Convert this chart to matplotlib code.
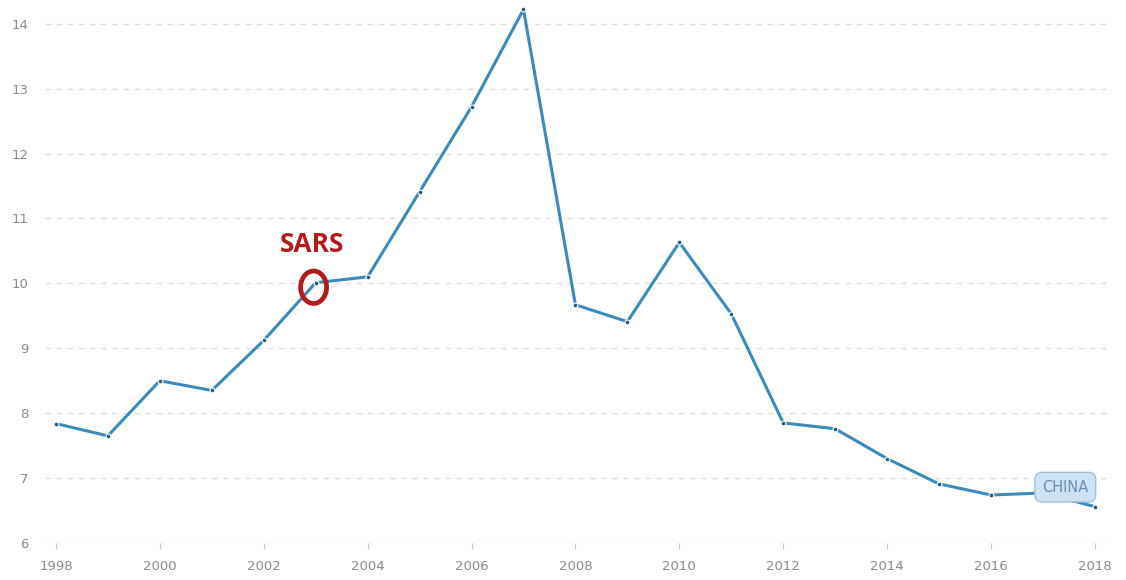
import matplotlib
matplotlib.use("Agg")
import matplotlib.pyplot as plt
from matplotlib.patches import Ellipse

years = list(range(1998, 2019))
values = [7.84, 7.65, 8.50, 8.35, 9.12, 10.01, 10.10, 11.41, 12.72, 14.22,
          9.67, 9.41, 10.63, 9.53, 7.85, 7.76, 7.30, 6.91, 6.74, 6.77, 6.56]
y_ticks = [6, 7, 8, 9, 10, 11, 12, 13, 14]
x_ticks = list(range(1998, 2019, 2))
series_label = "CHINA"
event_label = "SARS"
event_year = 2003

fig = plt.figure(figsize=(11.26, 5.8), dpi=100)
ax = fig.add_axes([45/1126, 37/580, 1065/1126, 542/580])
ax.set_xlim(1997.79, 2018.29)
ax.set_ylim(6, 14.35)

for s in ax.spines.values():
    s.set_visible(False)
ax.set_yticks(y_ticks)
ax.set_xticks(x_ticks)
ax.grid(axis="y", color="#dedede", linestyle=(0, (4, 4)), linewidth=1)
ax.tick_params(axis="y", length=0, labelsize=9.5, labelcolor="#8a8a8a", pad=12)
ax.tick_params(axis="x", length=4, color="#cccccc", labelsize=9.5, labelcolor="#8a8a8a", pad=8)

ax.plot(years, values, color="#3d8ab8", linewidth=2.2, marker="o", markersize=3.5,
        markerfacecolor="#2a5f80", markeredgecolor="white", markeredgewidth=0.8, zorder=3)

# SARS annotation
ev_val = values[years.index(event_year)]
ax.add_patch(Ellipse((event_year - 0.04, ev_val - 0.07), width=0.5, height=0.5, fill=False,
                     edgecolor="#b01c1c", linewidth=3.4, zorder=4))
ax.text(event_year - 0.08, ev_val + 0.38, event_label, color="#b01c1c", fontsize=19,
        fontweight="bold", ha="center", va="bottom", family="Open Sans")

# Series label
ax.text(2017.43, values[-2] + 0.09, series_label, color="#6f8fb0", fontsize=10.5,
        ha="center", va="center",
        bbox=dict(boxstyle="round,pad=0.5", facecolor="#cfe2f3", edgecolor="#9fc0dc", linewidth=1),
        zorder=5)

fig.savefig("out.png", dpi=100, facecolor="white")
